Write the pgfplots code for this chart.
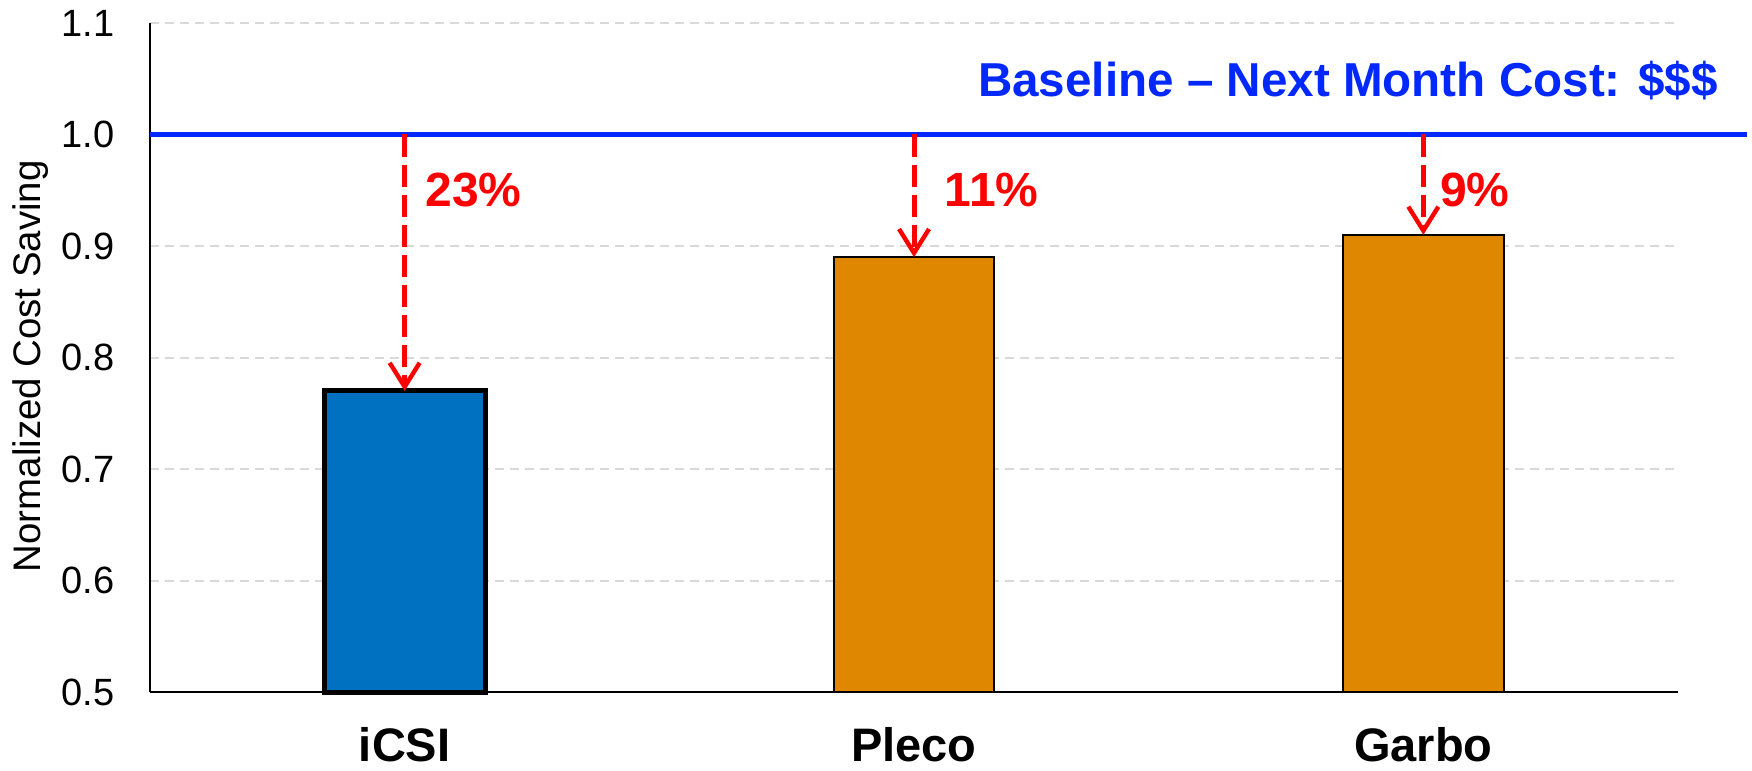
\documentclass[border=0pt]{standalone}
\usepackage{fontspec}
\setmainfont{Liberation Sans}
\usepackage{pgfplots}
\pgfplotsset{compat=1.18}
\usetikzlibrary{arrows.meta}

\definecolor{icsiblue}{RGB}{0,112,192}
\definecolor{rivalorange}{RGB}{224,135,0}
\definecolor{baseblue}{RGB}{0,40,255}
\definecolor{savered}{RGB}{255,0,0}
\definecolor{gridgray}{RGB}{217,217,217}

\begin{document}
\begin{tikzpicture}
\begin{axis}[
  width=764bp, height=334.5bp, scale only axis,
  xmin=-0.5, xmax=2.5, ymin=0.5, ymax=1.1,
  % bars rise from the bottom of the axis (0.5) instead of from zero
  y coord trafo/.code={\pgfmathparse{#1-0.5}},
  y coord inv trafo/.code={\pgfmathparse{#1+0.5}},
  axis lines*=left,
  axis line style={line width=1.2bp, -},
  clip=false,
  xtick={0,1,2}, xticklabels={iCSI,Pleco,Garbo},
  ytick={0.5,0.6,0.7,0.8,0.9,1.0,1.1},
  yticklabels={0.5,0.6,0.7,0.8,0.9,1.0,1.1},
  major tick length=0pt,
  ymajorgrids,
  major grid style={gridgray, line width=1bp, dash pattern=on 4.5bp off 3bp},
  yticklabel style={font=\fontsize{19bp}{23bp}\selectfont, anchor=east, inner sep=0pt, xshift=-17.5bp},
  xticklabel style={font=\fontsize{23.5bp}{28bp}\selectfont\bfseries, anchor=base, inner sep=0pt, yshift=-34.5bp},
  every axis y label/.style={at={(axis description cs:-0.0779,0.487)}, rotate=90, anchor=center, font=\fontsize{19.2bp}{23bp}\selectfont},
  ylabel={Normalized Cost Saving},
]
% normalized cost of each system
\addplot[ybar, bar width=0.316, bar shift=0pt, fill=icsiblue, draw=black, line width=2.5bp] coordinates {(0,0.77)};
\addplot[ybar, bar width=0.316, bar shift=0pt, fill=rivalorange, draw=black, line width=1bp] coordinates {(1,0.89)};
\addplot[ybar, bar width=0.316, bar shift=0pt, fill=rivalorange, draw=black, line width=1bp] coordinates {(2,0.91)};

% baseline cost level
\addplot[baseblue, line width=2.75bp, mark=none] coordinates {(-0.5,1.0) (2.636,1.0)};
\node[anchor=base east, inner sep=0pt, text=baseblue, font=\fontsize{23.8bp}{28bp}\selectfont\bfseries]
  at (axis cs:2.579,1.034) {Baseline -- Next Month Cost: \$\$\$};

% savings against the baseline
\pgfplotsset{saving/.style={savered, line width=2.5bp, mark=none, dash pattern=on 11bp off 4bp,
  -{Straight Barb[length=12bp,width=15bp,line width=2.2bp]}}}
\addplot[saving] coordinates {(0,1.0) (0,0.77)};
\addplot[saving] coordinates {(1,1.0) (1,0.89)};
\addplot[saving] coordinates {(2,1.0) (2,0.91)};
\tikzset{pct/.style={anchor=base west, inner sep=0pt, text=savered, font=\fontsize{24bp}{28bp}\selectfont\bfseries}}
\node[pct] at (axis cs:0.0403,0.9354) {23\%};
\node[pct] at (axis cs:1.0600,0.9354) {11\%};
\node[pct] at (axis cs:2.0324,0.9354) {9\%};

\coordinate (O) at (rel axis cs:0,0);
\end{axis}
\pgfresetboundingbox
\path[use as bounding box] (O) ++(-75bp,-39.5bp) rectangle ++(876bp,385.5bp);
\end{tikzpicture}
\end{document}
